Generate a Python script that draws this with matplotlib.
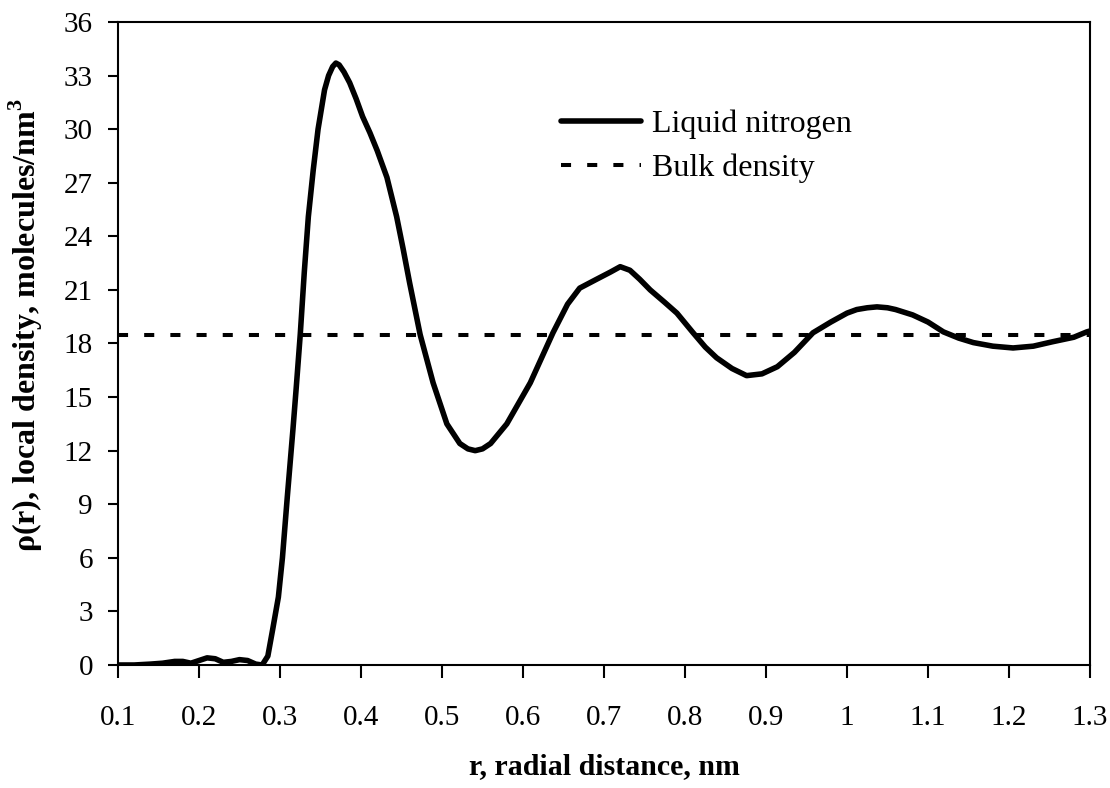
import matplotlib
matplotlib.use("Agg")
import matplotlib.pyplot as plt
from matplotlib.ticker import FixedLocator, FuncFormatter

plt.rcParams['font.family'] = ['Liberation Serif', 'DejaVu Serif']
plt.rcParams['mathtext.fontset'] = 'custom'
plt.rcParams['mathtext.rm'] = 'Liberation Serif:bold'
plt.rcParams['mathtext.bf'] = 'Liberation Serif:bold'

# radial distance (nm) and local density (molecules/nm^3)
r = [0.10, 0.12, 0.14, 0.155, 0.17, 0.18, 0.19, 0.20, 0.21, 0.22, 0.23, 0.24,
     0.25, 0.26, 0.27, 0.278, 0.285, 0.291, 0.298, 0.303, 0.309, 0.316, 0.320,
     0.325, 0.330, 0.335, 0.341, 0.347, 0.355, 0.360, 0.365, 0.369, 0.373,
     0.379, 0.386, 0.394, 0.402, 0.411, 0.420, 0.432, 0.444, 0.452, 0.460,
     0.473, 0.489, 0.506, 0.522, 0.532, 0.541, 0.550, 0.560, 0.580, 0.609,
     0.637, 0.655, 0.670, 0.691, 0.708, 0.720, 0.732, 0.744, 0.757, 0.775,
     0.790, 0.810, 0.825, 0.839, 0.858, 0.876, 0.895, 0.914, 0.935, 0.958,
     0.980, 1.000, 1.012, 1.025, 1.037, 1.050, 1.060, 1.081, 1.100, 1.119,
     1.138, 1.156, 1.180, 1.205, 1.230, 1.254, 1.280, 1.296, 1.300]
rho = [0.0, 0.0, 0.05, 0.1, 0.2, 0.2, 0.1, 0.25, 0.4, 0.35, 0.15, 0.2,
       0.3, 0.25, 0.05, 0.0, 0.5, 2.0, 3.8, 6.0, 9.4, 13.2, 15.5,
       18.5, 22.0, 25.1, 27.7, 30.0, 32.2, 33.0, 33.5, 33.7, 33.6,
       33.2, 32.6, 31.7, 30.7, 29.8, 28.8, 27.3, 25.1, 23.3, 21.4,
       18.5, 15.8, 13.5, 12.4, 12.1, 12.0, 12.1, 12.4, 13.5, 15.8,
       18.6, 20.2, 21.1, 21.6, 22.0, 22.3, 22.1, 21.6, 21.0, 20.3,
       19.7, 18.6, 17.8, 17.2, 16.6, 16.2, 16.3, 16.7, 17.5, 18.6,
       19.2, 19.7, 19.9, 20.0, 20.05, 20.0, 19.9, 19.6, 19.2, 18.65,
       18.3, 18.05, 17.85, 17.75, 17.85, 18.1, 18.35, 18.65, 18.7]
bulk_density = 18.5

x_ticks = [0.1, 0.2, 0.3, 0.4, 0.5, 0.6, 0.7, 0.8, 0.9, 1.0, 1.1, 1.2, 1.3]
y_ticks = list(range(0, 37, 3))

fig = plt.figure(figsize=(11.1, 7.88), dpi=100)
ax = fig.add_axes([0.1063, 0.1561, 0.8757, 0.8160])

ax.plot(r, rho, color='black', lw=4, solid_joinstyle='round',
        solid_capstyle='round', label='Liquid nitrogen')
ax.plot([r[0], r[-1]], [bulk_density, bulk_density], color='black', lw=2.9,
        linestyle=(0, (2.5, 4)), label='Bulk density')

ax.set_xlim(0.1, 1.3)
ax.set_ylim(0, 36)
ax.xaxis.set_major_locator(FixedLocator(x_ticks))
ax.yaxis.set_major_locator(FixedLocator(y_ticks))
ax.xaxis.set_major_formatter(FuncFormatter(lambda v, p: ('%.1f' % v).rstrip('0').rstrip('.')))

for s in ax.spines.values():
    s.set_linewidth(1.5)
ax.tick_params(axis='x', direction='out', length=9, width=1.5, pad=20, labelsize=21)
ax.tick_params(axis='y', direction='out', length=7, width=1.5, pad=11, labelsize=21)

ax.set_xlabel('r, radial distance, nm', fontsize=21.5, fontweight='bold', labelpad=16)
ax.set_ylabel(r'ρ(r), local density, molecules/nm$^{3}$', fontsize=23,
              fontweight='bold')
ax.yaxis.set_label_coords(-0.075, 0.529)

ax.legend(loc='upper left', bbox_to_anchor=(0.439, 0.888), frameon=False,
          borderpad=0, fontsize=23, handlelength=2.5, handletextpad=0.37,
          labelspacing=0.45)

fig.savefig('out.png', dpi=100)
